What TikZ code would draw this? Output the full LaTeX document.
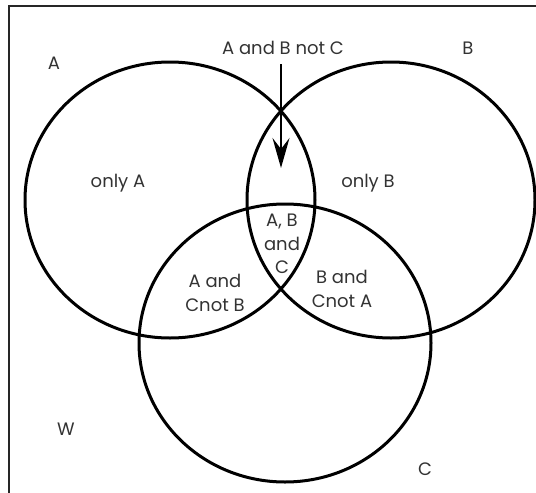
\documentclass[tikz,border=0pt]{standalone}
\usepackage{fontspec}
\setmainfont{Poppins}
\usetikzlibrary{arrows.meta}
\begin{document}
\begin{tikzpicture}[x=1pt,y=-1pt,
  setring/.style={draw=black,line width=3pt},
  lbl/.style={text=black!80,font=\fontsize{18}{23.5}\selectfont,inner sep=0pt,align=center},
  frameline/.style={draw=black!85,line width=1.8pt},
  pointer/.style={draw=black,line width=2.2pt,-{Stealth[length=30pt,width=17pt,inset=11pt]}}]
\useasboundingbox (0,0) rectangle (536,493);
\fill[white] (0,0) rectangle (536,493);
\draw[frameline] (9,493) -- (9,6) -- (536,6);
% sets
\draw[setring] (170,200) ellipse [x radius=145, y radius=138];
\draw[setring] (391,200) ellipse [x radius=144, y radius=138];
\draw[setring] (285,343) ellipse [x radius=146, y radius=139];
% labels
\node[lbl] (la) at (54,63) {A};
\node[lbl] (lb) at (468,48) {B};
\node[lbl] (lc) at (425,469) {C};
\node[lbl] (lw) at (66,429) {W};
\node[lbl] (abnc) at (283,48) {A and B not C};
\node[lbl] (onlya) at (118,183) {only A};
\node[lbl] (onlyb) at (368,183) {only B};
\node[lbl] (abc) at (282,244) {A, B\\and\\C};
\node[lbl] (acnb) at (215,293) {A and\\Cnot B};
\node[lbl] (bcna) at (342,289) {B and\\Cnot A};
% arrow
\coordinate (arrowstart) at (281,64);
\coordinate (arrowtip) at (281,168);
\draw[pointer] (arrowstart) -- (arrowtip);
\end{tikzpicture}
\end{document}
